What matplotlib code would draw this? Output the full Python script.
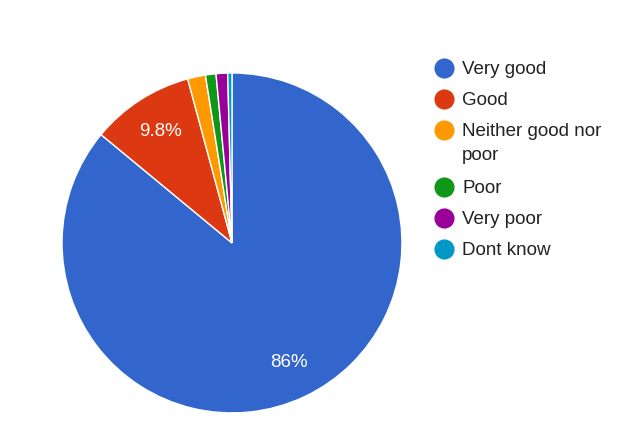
import matplotlib

matplotlib.use('Agg')
import matplotlib.pyplot as plt
from matplotlib.lines import Line2D

plt.rcParams['font.family'] = ['Liberation Sans', 'DejaVu Sans']

# data
labels = ['Very good', 'Good', 'Neither good nor\npoor', 'Poor', 'Very poor', 'Dont know']
values = [86.0, 9.8, 1.7, 1.0, 1.1, 0.4]
colors = ['#3366cc', '#dc3912', '#ff9900', '#109618', '#990099', '#0099c6']


def fmt(pct):
    if pct < 5:
        return ''
    return '%s%%' % format(pct, '.2g')


fig = plt.figure(figsize=(6.33, 4.22), dpi=100)
ax = fig.add_axes([0.0980, 0.0213, 0.537, 0.806])
wedges, texts, autotexts = ax.pie(values, colors=colors, startangle=90, counterclock=False,
                                  autopct=fmt, pctdistance=0.78,
                                  wedgeprops=dict(edgecolor='white', linewidth=1))
for t in autotexts:
    t.set_color('white')
    t.set_fontsize(13.5)
ax.set_xlim(-1, 1)
ax.set_ylim(-1, 1)
ax.set_aspect('equal')

# legend drawn by hand
y = 68
for lab, col in zip(labels, colors):
    fy = 1 - y / 422
    fig.add_artist(Line2D([444 / 633], [fy], marker='o', markersize=13.5, color=col,
                          linestyle='none', transform=fig.transFigure))
    fig.text(462 / 633, fy + 7 / 422, lab, fontsize=13.5, color='#222222', va='top',
             linespacing=1.57)
    y += 31 + 26 * lab.count('\n')

fig.savefig('out.png', dpi=100)
